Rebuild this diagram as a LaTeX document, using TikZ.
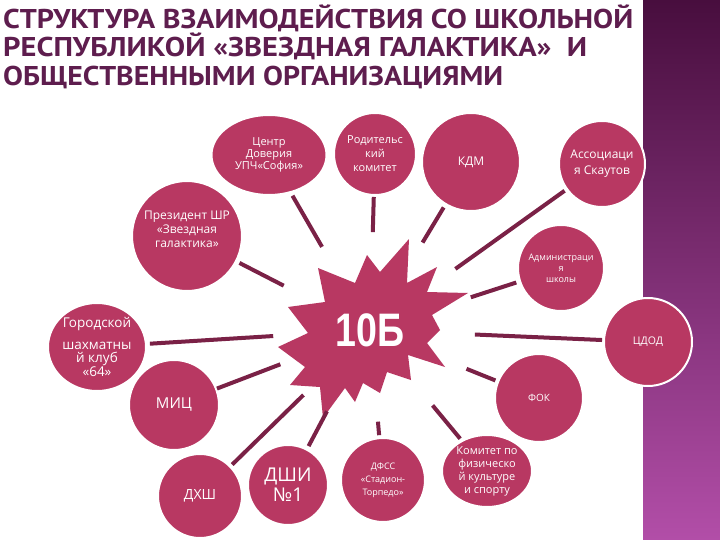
\documentclass[tikz,border=0pt]{standalone}
\usepackage{fontspec}
\setmainfont{Open Sans}
\newfontfamily\titlefont{PT Sans}
\newfontfamily\numfont{Liberation Sans}
\usetikzlibrary{shapes.geometric,calc}
\definecolor{circ}{RGB}{184,56,98}
\definecolor{linkc}{RGB}{122,33,70}
\definecolor{titlec}{RGB}{94,29,78}
\definecolor{stripT}{RGB}{72,14,62}
\definecolor{stripM}{RGB}{122,40,112}
\definecolor{stripB}{RGB}{178,78,168}
\newcommand\ttlline[2]{\resizebox{#1}{19pt}{\vrule width 0pt height \fontcharht\font`\H depth 0pt\smash{#2}}}
\tikzset{
  bub/.style={circle, fill=circ, draw=white, line width=2pt, inner sep=0pt, text=white, align=center},
  ell/.style={ellipse, fill=circ, draw=white, line width=2pt, inner sep=0pt, text=white, align=center},
  link/.style={draw=linkc, line width=4pt},
  ttl/.style={anchor=base west, inner sep=0pt, text=titlec, font=\titlefont\bfseries}
}
\begin{document}
\begin{tikzpicture}[x=1pt,y=-1pt]
\useasboundingbox (0,0) rectangle (720,540);
\fill[white] (0,0) rectangle (720,540);
% right strip
\shade[top color=stripT, middle color=stripM, bottom color=stripB] (643,0) rectangle (720,540);
% title
\node[ttl] (t1) at (3,28.3) {\ttlline{630pt}{СТРУКТУРА ВЗАИМОДЕЙСТВИЯ СО ШКОЛЬНОЙ}};
\node[ttl] (t2) at (3,56.7) {\ttlline{584pt}{РЕСПУБЛИКОЙ «ЗВЕЗДНАЯ ГАЛАКТИКА»\ \ И}};
\node[ttl] (t3) at (3,86) {\ttlline{500pt}{ОБЩЕСТВЕННЫМИ ОРГАНИЗАЦИЯМИ}};
% star
\fill[circ] (409,239) -- (407,283) -- (437,267) -- (427,292) -- (468,293) -- (432,315)
  -- (440,330) -- (427,343) -- (445,367) -- (408,355) -- (411,380) -- (387,372)
  -- (380,393) -- (363,383) -- (355,402) -- (345,388) -- (323,418) -- (320,387)
  -- (290,385) -- (305,367)
  -- (278,347) -- (308,333) -- (288,307) -- (325,302) -- (318,268) -- (355,283)
  -- (367,255) -- (380,272) -- cycle;
\node[inner sep=0pt, text=white, font=\numfont\bfseries\fontsize{47}{47}\selectfont] (star) at (370,330) {\scalebox{0.8}[1]{10Б}};
% bubbles
\node[ell, minimum width=115pt, minimum height=80pt, font=\fontsize{11}{12}\selectfont] (cent) at (269,155) {Центр\\Доверия\\УПЧ«София»};
\node[bub, minimum size=82pt, font=\fontsize{11}{14}\selectfont] (rod) at (375,154) {Родительс\\кий\\комитет};
\node[bub, minimum size=98pt, font=\fontsize{12}{14}\selectfont] (kdm) at (471,162) {КДМ};
\node[bub, minimum size=86pt, font=\fontsize{12}{16}\selectfont] (asc) at (602,164) {Ассоциаци\\я Скаутов};
\node[bub, minimum size=110pt, label={[name=presT, text=white, align=center, font=\fontsize{12}{14}\selectfont, yshift=7pt]center:{Президент ШР\\«Звездная\\галактика»}}] (pres) at (187,236) {};
\node[ell, minimum width=98pt, minimum height=88pt, font=\fontsize{13.5}{13}\selectfont] (gor) at (97,347) {Городской\\[9pt]шахматны\\й клуб\\«64»};
\node[bub, minimum size=86pt, font=\fontsize{9}{11}\selectfont] (adm) at (561,268) {Администраци\\я\\школы};
\node[bub, minimum size=88pt, font=\fontsize{10.5}{12}\selectfont] (cdod) at (648,342) {ЦДОД};
\node[bub, minimum size=88pt, font=\fontsize{10}{12}\selectfont] (fok) at (539,398) {ФОК};
\node[bub, minimum size=90pt, font=\fontsize{15}{16}\selectfont] (mic) at (174,405) {МИЦ};
\node[bub, minimum size=84pt, font=\fontsize{14}{16}\selectfont] (dhsh) at (200,496) {ДХШ};
\node[bub, minimum size=80pt, font=\fontsize{19}{20}\selectfont] (dshi) at (288,485) {ДШИ\\№1};
\node[bub, minimum size=84pt, font=\fontsize{9}{13}\selectfont] (dfss) at (383,480) {ДФСС\\«Стадион-\\Торпедо»};
\node[ell, minimum width=90pt, minimum height=72pt, font=\fontsize{11}{13}\selectfont] (kom) at (487,471) {Комитет по\\физическо\\й культуре\\и спорту};
% connectors
\draw[link, shorten <=96pt, shorten >=47pt] (star.center) -- (cent.center);
\draw[link, shorten <=98pt, shorten >=43pt] (star.center) -- (rod.center);
\draw[link, shorten <=102pt, shorten >=53pt] (star.center) -- (kdm.center);
\draw[link, shorten <=105pt, shorten >=46pt] (star.center) -- (asc.center);
\draw[link, shorten <=106pt, shorten >=47pt] (star.center) -- (adm.center);
\draw[link, shorten <=97pt, shorten >=59pt] (star.center) -- (pres.center);
\draw[link, shorten <=97pt, shorten >=53pt] (star.center) -- (gor.center);
\draw[link, shorten <=96pt, shorten >=46pt] (star.center) -- (mic.center);
\draw[link, shorten <=105pt, shorten >=46pt] (star.center) -- (cdod.center);
\draw[link, shorten <=104pt, shorten >=47pt] (star.center) -- (fok.center);
\draw[link, shorten <=93pt, shorten >=45pt] (star.center) -- (dhsh.center);
\draw[link, shorten <=92pt, shorten >=44pt] (star.center) -- (dshi.center);
\draw[link, shorten <=92pt, shorten >=45pt] (star.center) -- (dfss.center);
\draw[link, shorten <=98pt, shorten >=42pt] (star.center) -- (kom.center);
\end{tikzpicture}
\end{document}
